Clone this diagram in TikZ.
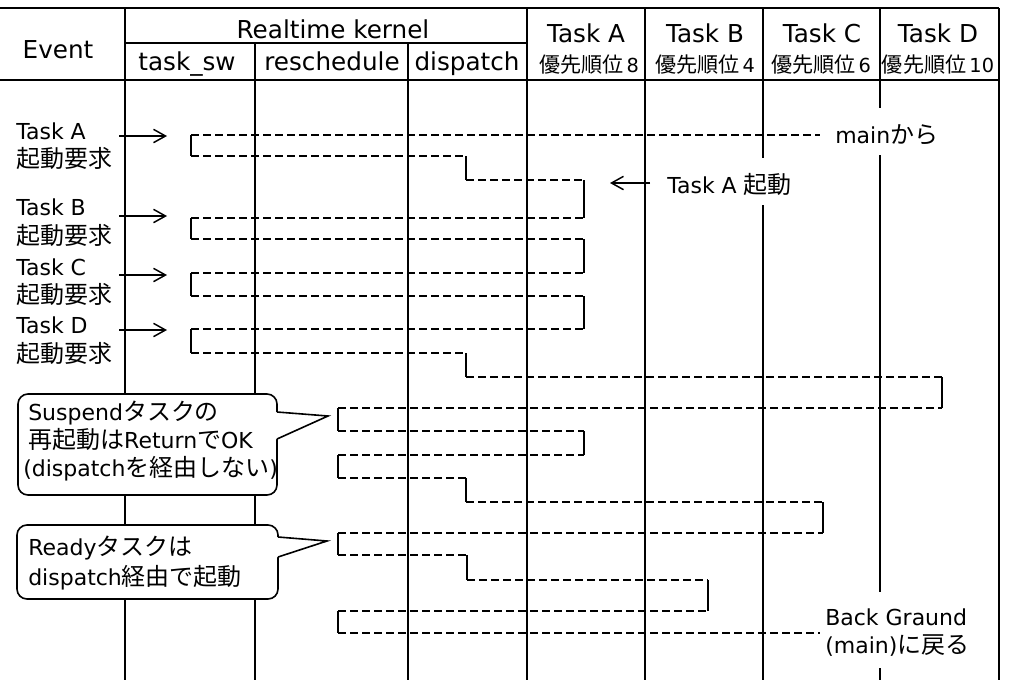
\documentclass[tikz,border=0pt]{standalone}
\usepackage{fontspec}
\setmainfont{DejaVu Sans}
\newfontfamily\jpfont[Scale=1.09]{Noto Sans CJK JP}
\newcommand{\jtext}[1]{{\jpfont #1}}
\newcommand{\lblfont}{\fontsize{16.5}{20}\selectfont}
\newcommand{\headfont}{\fontsize{18.5}{22}\selectfont}
\newcommand{\prifont}{\fontsize{14.5}{17}\selectfont}
\usetikzlibrary{arrows.meta}

\begin{document}
\begin{tikzpicture}[x=0.75pt, y=-0.75pt,
  grid/.style={line width=1.3pt},
  flow/.style={line width=1.5pt, dash pattern=on 6pt off 3pt},
  bar/.style={line width=2.2pt},
  evarrow/.style={line width=1.1pt, -{Straight Barb[length=9pt, width=10pt]}},
  txt/.style={inner sep=0pt, font=\lblfont, anchor=base west},
  head/.style={inner sep=0pt, font=\headfont, anchor=base},
  prio/.style={inner sep=0pt, font=\prifont, anchor=base},
  callout/.style={line width=1.2pt, fill=white}]
  \useasboundingbox (0,0) rectangle (1011,683);
  % table frame
  \draw[grid] (0,8) -- (999,8);
  \draw[grid] (125,43) -- (527,43);
  \draw[grid] (0,80) -- (999,80);
  \foreach \x in {125,527,645,999} \draw[grid] (\x,8) -- (\x,680);
  \foreach \x in {255,408} \draw[grid] (\x,43) -- (\x,680);
  \draw[grid] (763,8) -- (763,158) (763,205) -- (763,680);
  \draw[grid] (880,8) -- (880,108) (880,155) -- (880,592) (880,668) -- (880,680);
  % header texts
  \node[head] (rtk) at (333,38) {Realtime kernel};
  \node[head] (ev) at (58,58) {Event};
  \node[head] (tsw) at (187,70) {task\_sw};
  \node[head] (rsch) at (332,70) {reschedule};
  \node[head] (dsp) at (467,70) {dispatch};
  \node[head] (tA) at (586,42) {Task A};
  \node[head] (tB) at (705,42) {Task B};
  \node[head] (tC) at (822,42) {Task C};
  \node[head] (tD) at (938,42) {Task D};
  \node[prio] (pA) at (589,72) {\jtext{優先順位}\,8};
  \node[prio] (pB) at (705,72) {\jtext{優先順位}\,4};
  \node[prio] (pC) at (821,72) {\jtext{優先順位}\,6};
  \node[prio] (pD) at (938,72) {\jtext{優先順位}\,10};
  % events
  \node[txt] (evA) at (16,139) {Task A};
  \node[txt] (evAj) at (16,167) {\jtext{起動要求}};
  \node[txt] (evB) at (16,215) {Task B};
  \node[txt] (evBj) at (16,244) {\jtext{起動要求}};
  \node[txt] (evC) at (16,275) {Task C};
  \node[txt] (evCj) at (16,303) {\jtext{起動要求}};
  \node[txt] (evD) at (16,333) {Task D};
  \node[txt] (evDj) at (16,362) {\jtext{起動要求}};
  \foreach \y in {136,216,275,330} \draw[evarrow] (119,\y) -- (167,\y);
  % task switch flow
  \foreach \xa/\xb/\y in {191/820/135, 191/466/156, 466/584/180,
      191/584/218, 191/584/239, 191/584/273, 191/584/296,
      191/584/329, 191/466/353, 466/942/377,
      338/942/408, 338/584/431, 338/584/455, 338/466/478, 466/823/502,
      338/823/533, 338/467/555, 467/708/580, 338/708/611, 338/820/633}
    \draw[flow] (\xa,\y) -- (\xb,\y);
  \foreach \x/\ya/\yb in {191/135/156, 466/156/180, 584/180/218,
      191/218/239, 584/239/273, 191/273/296, 584/296/329,
      191/329/353, 466/353/377, 942/377/408,
      338/408/431, 584/431/455, 338/455/478, 466/478/502, 823/502/533,
      338/533/555, 467/555/580, 708/580/611, 338/611/633}
    \draw[bar] (\x,\ya) -- (\x,\yb);
  % notes on the right
  \node[txt] (frmain) at (835,143) {main\jtext{から}};
  \node[txt] (startA) at (667,193) {Task A \jtext{起動}};
  \draw[evarrow] (650,183) -- (610,183);
  \node[txt] (bg1) at (825,625) {Back Graund};
  \node[txt] (bg2) at (825,653) {(main)\jtext{に戻る}};
  % callout: suspend
  \draw[callout, rounded corners=7.5pt] (18,394) rectangle (277,495);
  \fill[white] (275,412) -- (328,416) -- (277,439) -- (275,439) -- cycle;
  \draw[line width=1.2pt] (277,412) -- (328,416) -- (277,439);
  \node[txt] (s1) at (28,420) {Suspend\jtext{タスクの}};
  \node[txt] (s2) at (28,448) {\jtext{再起動は}Return\jtext{で}OK};
  \node[txt] (s3) at (23,476) {(dispatch\jtext{を経由しない})};
  % callout: ready
  \draw[callout, rounded corners=7.5pt] (17,525) rectangle (278,599);
  \fill[white] (276,537) -- (327,541) -- (278,557) -- (276,557) -- cycle;
  \draw[line width=1.2pt] (278,537) -- (327,541) -- (278,557);
  \node[txt] (r1) at (28,555) {Ready\jtext{タスクは}};
  \node[txt] (r2) at (28,585) {dispatch\jtext{経由で起動}};
\end{tikzpicture}
\end{document}
